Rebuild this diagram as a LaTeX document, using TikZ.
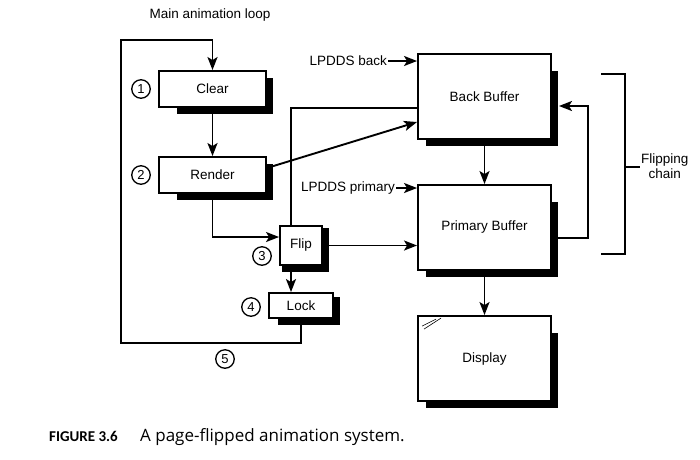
\documentclass[tikz,border=0pt]{standalone}
\usepackage{fontspec}
\setmainfont{Liberation Sans}
\newfontfamily\capfont{Carlito}
\newfontfamily\captextfont{Open Sans}
\usetikzlibrary{arrows.meta,positioning}

\newcommand{\boxshadow}[3]{%
  \fill ([xshift=#2]#1.south west) rectangle ([xshift=6pt,yshift=-6pt]#1.south east);
  \fill ([yshift=-#3]#1.north east) rectangle ([xshift=6pt,yshift=-6pt]#1.south east);
}

\begin{document}
\begin{tikzpicture}[x=1pt, y=-1pt, font=\fontsize{13.5}{15}\selectfont,
  stage/.style={draw, line width=1.9pt, fill=white, inner sep=0pt},
  buffer/.style={stage, minimum width=133pt, minimum height=85pt},
  num/.style={draw, circle, line width=1.3pt, minimum size=18.5pt, inner sep=0pt, font=\fontsize{13}{14}\selectfont},
  arr/.style={line width=1.9pt, -{Stealth[length=13pt, width=10pt, inset=3pt]}},
  line/.style={line width=1.9pt}]
  \useasboundingbox (0,0) rectangle (700,459);

  \node (title) at (210,15) {Main animation loop};

  \node[stage, minimum width=107pt, minimum height=36pt] (clear) at (212.5,89) {Clear};
  \node[stage, minimum width=107pt, minimum height=36pt] (render) at (212.5,175) {Render};
  \node[stage, minimum width=42pt, minimum height=39pt] (flip) at (301,245.5) {Flip};
  \node[stage, minimum width=64pt, minimum height=25pt] (lock) at (301,305.5) {Lock};
  \boxshadow{clear}{19pt}{8pt}
  \boxshadow{render}{19pt}{8pt}
  \boxshadow{flip}{3pt}{3pt}
  \boxshadow{lock}{10pt}{5pt}

  \node[num] (n1) at (141,89) {1};
  \node[num] (n2) at (141,175) {2};
  \node[num] (n3) at (262,256) {3};
  \node[num] (n4) at (251,307) {4};
  \node[num] (n5) at (225,359) {5};

  \node[buffer] (back) at (484.5,96.5) {Back Buffer};
  \node[buffer] (primary) at (484.5,227.5) {Primary Buffer};
  \node[buffer] (display) at (484.5,358.5) {Display};
  \boxshadow{back}{9pt}{18pt}
  \boxshadow{primary}{9pt}{18pt}
  \boxshadow{display}{9pt}{18pt}

  \node[anchor=east, inner sep=1pt] (lpback) at (388,61) {LPDDS back};
  \node[anchor=east, inner sep=1pt] (lpprim) at (396,188) {LPDDS primary};

  \coordinate (loopbl) at (121,343);
  \coordinate (looptl) at (121,40);

  % main loop
  \draw[arr] (clear) -- (render);
  \draw[arr] (render.south) |- ([yshift=8.5pt]flip.west);
  \draw[arr] ([xshift=-10pt]flip.south) -- ([xshift=-10pt]flip.south |- lock.north);
  \draw[arr] (lock.south) |- (loopbl) -- (looptl) -| (clear.north);

  % buffers
  \draw[arr] ([yshift=7pt]render.east) -- ([yshift=-25.5pt]back.west);
  \draw[line] ([xshift=-10pt]flip.north) |- ([yshift=-11.5pt]back.west);
  \draw[arr] (flip.east) -- (flip.east -| primary.west);
  \draw[arr] (lpback.east) -- (lpback.east -| back.west);
  \draw[arr] (lpprim.east) -- (lpprim.east -| primary.west);
  \draw[arr] ([yshift=-6pt]back.south) -- (primary.north);
  \draw[arr] ([yshift=-6pt]primary.south) -- (display.north);
  \draw[arr] ([xshift=6pt,yshift=-10.5pt]primary.east) -- ++(30,0) |- ([xshift=7pt,yshift=-9.5pt]back.east);

  % glare on the display
  \draw[line width=0.6pt] ([shift={(5pt,-11pt)}]display.north west) -- ([shift={(19pt,-4pt)}]display.north west);
  \draw[line width=0.6pt] ([shift={(7pt,-14pt)}]display.north west) -- ([shift={(24pt,-3pt)}]display.north west);

  % flipping chain bracket
  \draw[line] (601,74) -| (625,254) -- (601,254);
  \draw[line] (625,167) -- (640,167);
  \node[align=center, anchor=west, inner sep=0pt] (chain) at (641,166) {Flipping\\chain};

  \node[anchor=base west, inner sep=0pt, font=\capfont\fontsize{15}{17}\selectfont] (fig) at (49,441)
    {\textbf{FIGURE 3.6}};
  \node[anchor=base west, inner sep=0pt, font=\captextfont\fontsize{17}{18}\selectfont] (caption) at (140,441)
    {A page-flipped animation system.};
\end{tikzpicture}
\end{document}
